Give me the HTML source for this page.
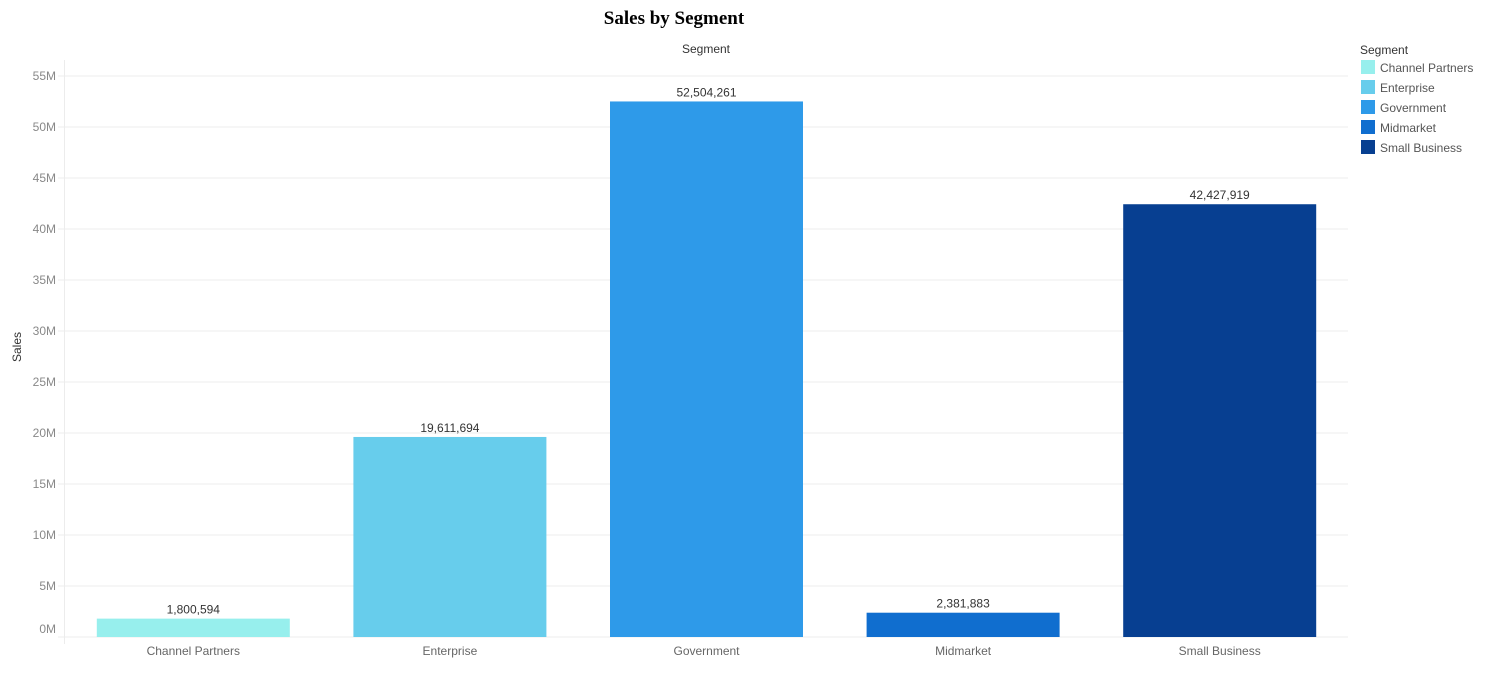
<!DOCTYPE html>
<html><head><meta charset="utf-8"><style>
body{margin:0;background:#fff;font-family:"Liberation Sans",sans-serif;}
svg text{font-family:"Liberation Sans",sans-serif;}
</style></head><body>
<svg width="1498" height="677">
<text x="674" y="24" text-anchor="middle" font-family="Liberation Serif" font-weight="bold" font-size="19" fill="#000" style="font-family:'Liberation Serif',serif">Sales by Segment</text>
<text x="706" y="53" text-anchor="middle" font-size="12" fill="#333">Segment</text>
<text transform="translate(21,347) rotate(-90)" text-anchor="middle" font-size="12" fill="#333">Sales</text>
<g id="grid"></g><g id="bars"></g><g id="legend"></g>
</svg>
<script>
const categories=["Channel Partners","Enterprise","Government","Midmarket","Small Business"];
const sales=[1800594,19611694,52504261,2381883,42427919];
const colors=["#97efed","#67cdec","#2e9ae9","#106ecf","#073f91"];
const ticks=[0,5,10,15,20,25,30,35,40,45,50,55];
const NS="http://www.w3.org/2000/svg";
const x0=65,x1=1348,y0=637,pxPerM=10.2;
const y=v=>y0-v/1e6*pxPerM;
const band=(x1-x0)/categories.length;
function mk(tag,attrs,parent,txt){const e=document.createElementNS(NS,tag);for(const k in attrs)e.setAttribute(k,attrs[k]);if(txt!==undefined)e.textContent=txt;parent.appendChild(e);return e;}
const grid=document.getElementById('grid'),bars=document.getElementById('bars'),legend=document.getElementById('legend');
ticks.forEach(t=>{
 const yy=y(t*1e6);
 const l=mk('line',{x1:58,x2:x1,y1:yy,y2:yy,stroke:'#ececec','stroke-width':1},grid);
 
 
 const tx=mk('text',{x:56,y:(t===0?yy-4:yy+4),'text-anchor':'end','font-size':12,fill:'#888'},grid,t+'M');
 
 
});
const ax=mk('line',{x1:64.5,x2:64.5,y1:60,y2:644,stroke:'#ececec'},grid);


categories.forEach((c,i)=>{
 const cx=x0+band*(i+0.5),w=193,top=y(sales[i]);
 const r=mk('rect',{x:cx-w/2,y:top,width:w,height:y0-top,fill:colors[i]},bars);
 
 
 const v=mk('text',{x:cx,y:top-5,'text-anchor':'middle','font-size':12,fill:'#333'},bars,sales[i].toLocaleString('en-US'));
 
 
 const xl=mk('text',{x:cx,y:655,'text-anchor':'middle','font-size':12,fill:'#666'},bars,c);
 
 
 const sw=mk('rect',{x:1361,y:60+i*20,width:14,height:14,fill:colors[i]},legend);
 
 
 const lt=mk('text',{x:1380,y:72+i*20,'font-size':12,fill:'#555'},legend,c);
 
 
});
const lh=mk('text',{x:1360,y:54,'font-size':12,fill:'#333'},legend,'Segment');


</script>
</body></html>
